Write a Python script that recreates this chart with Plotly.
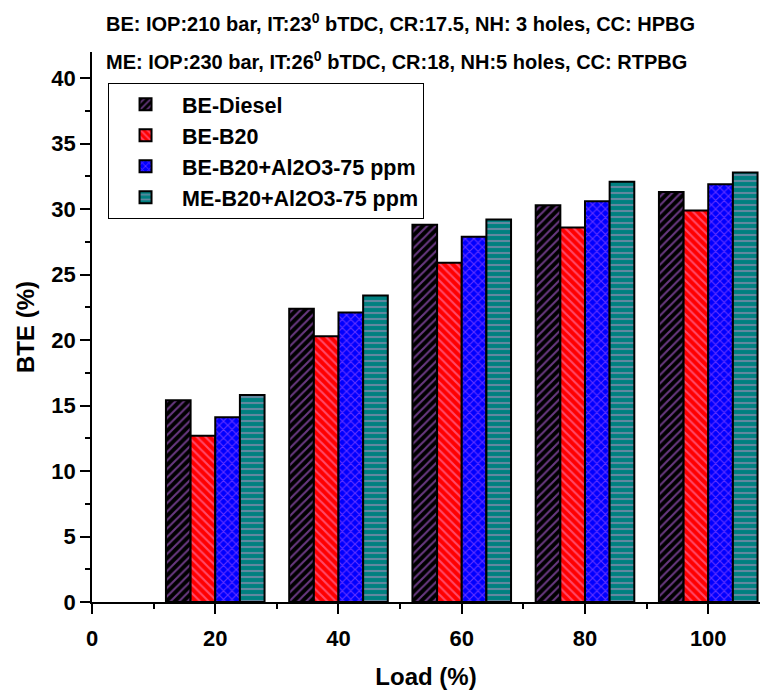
import plotly.graph_objects as go

loads = [20, 40, 60, 80, 100]
series_names = ["BE-Diesel", "BE-B20", "BE-B20+Al2O3-75 ppm", "ME-B20+Al2O3-75 ppm"]
be_diesel = [15.4, 22.4, 28.8, 30.3, 31.3]
be_b20 = [12.7, 20.3, 25.9, 28.6, 29.9]
be_b20_al = [14.1, 22.1, 27.9, 30.6, 31.9]
me_b20_al = [15.8, 23.4, 29.2, 32.1, 32.8]
x_ticks = [0, 20, 40, 60, 80, 100]
y_ticks = [0, 5, 10, 15, 20, 25, 30, 35, 40]
header_1 = "BE: IOP:210 bar, IT:23<sup>0</sup> bTDC, CR:17.5, NH: 3 holes, CC: HPBG"
header_2 = "ME: IOP:230 bar, IT:26<sup>0</sup> bTDC, CR:18, NH:5 holes, CC: RTPBG"

styles = [
    dict(bg="#000000", fg="#d070ff", shape="/"),
    dict(bg="#ff0000", fg="#ff90d0", shape="\\"),
    dict(bg="#0000ff", fg="#c060ff", shape="x"),
    dict(bg="#008080", fg="#c090c0", shape="-"),
]
values = [be_diesel, be_b20, be_b20_al, me_b20_al]

FONT = "Arial"
fig = go.Figure()
for name, vals, st in zip(series_names, values, styles):
    fig.add_trace(go.Bar(
        x=loads, y=vals, name=name,
        marker=dict(color=st["bg"],
                    line=dict(color="black", width=2),
                    pattern=dict(shape=st["shape"], fgcolor=st["fg"],
                                 bgcolor=st["bg"], size=6, solidity=0.35)),
    ))

axis_common = dict(
    showline=True, linecolor="black", linewidth=1.5,
    ticks="outside", ticklen=10, tickwidth=1.5, tickcolor="black",
    showgrid=False, zeroline=False, automargin=False,
    tickfont=dict(size=22, family=FONT, color="black", weight=700),
)

fig.update_layout(
    width=760, height=690,
    margin=dict(l=92, r=0, t=52, b=88),
    barmode="group", bargap=0.2, bargroupgap=0,
    plot_bgcolor="white", paper_bgcolor="white",
    font=dict(family=FONT, color="black", weight=700),
    showlegend=True,
    legend=dict(x=0.024, y=0.944, xanchor="left", yanchor="top",
                bgcolor="white", bordercolor="black", borderwidth=1,
                font=dict(size=21.5, family=FONT, color="black", weight=700),
                tracegroupgap=0, itemwidth=63),
    xaxis=dict(range=[0, 108.4], tickmode="array", tickvals=x_ticks,
               ticktext=[str(v) for v in x_ticks], ticklabelstandoff=6,
               minor=dict(dtick=10, ticks="outside", ticklen=5, tickwidth=1.5, tickcolor="black"),
               title=dict(text="Load (%)", font=dict(size=24, family=FONT, weight=700), standoff=22),
               **axis_common),
    yaxis=dict(range=[0, 42], tickmode="array", tickvals=y_ticks,
               ticktext=[str(v) for v in y_ticks],
               minor=dict(dtick=2.5, tick0=0, ticks="outside", ticklen=5, tickwidth=1.5, tickcolor="black"),
               title=dict(text="BTE (%)", font=dict(size=24, family=FONT, weight=700), standoff=10),
               **axis_common),
)

fig.add_annotation(text=header_1, xref="paper", yref="paper",
                   x=0.018, y=1.053, showarrow=False, xanchor="left", yanchor="middle",
                   font=dict(size=20, family=FONT, weight=700))
fig.add_annotation(text=header_2, xref="paper", yref="paper",
                   x=0.018, y=0.985, showarrow=False, xanchor="left", yanchor="middle",
                   font=dict(size=20, family=FONT, weight=700))

fig.write_html("out.html", config={"displayModeBar": False},
               post_script="document.body.style.margin='0';document.body.style.overflow='hidden';")
